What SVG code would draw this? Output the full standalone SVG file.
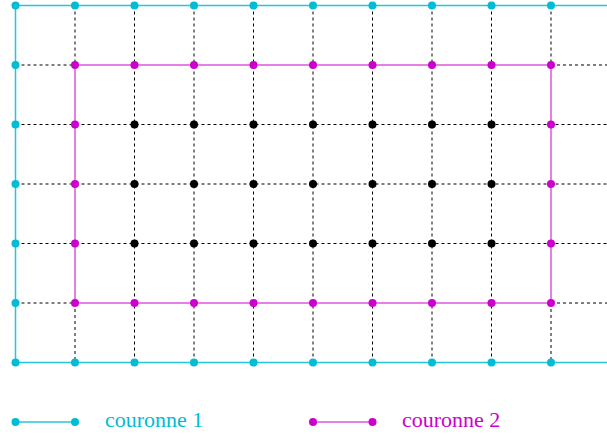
<svg xmlns="http://www.w3.org/2000/svg" width="607" height="434" viewBox="0 0 607 434">
<style>
.d{stroke:#000;stroke-width:1;stroke-dasharray:3 3;fill:none}
.c{stroke:#26c6da;stroke-width:1.5;fill:none}
.m{stroke:#cc00cc;stroke-width:1;fill:none}
.cd{fill:#00bcd4}
.md{fill:#cc00cc}
.bd{fill:#000}
.t{font-family:"Liberation Serif","Times New Roman",serif;font-size:22px}
</style>
<rect width="607" height="434" fill="#fff"/>
<g id="connectors">
<g id="grid-h">
<line class="d" x1="15.5" y1="65" x2="75" y2="65"/>
<line class="d" x1="551" y1="65" x2="607" y2="65"/>
<line class="d" x1="15.5" y1="124.5" x2="607" y2="124.5"/>
<line class="d" x1="15.5" y1="184" x2="607" y2="184"/>
<line class="d" x1="15.5" y1="243.5" x2="607" y2="243.5"/>
<line class="d" x1="15.5" y1="303" x2="75" y2="303"/>
<line class="d" x1="551" y1="303" x2="607" y2="303"/>
</g>
<g id="grid-v">
<line class="d" x1="75" y1="5.5" x2="75" y2="65"/>
<line class="d" x1="75" y1="303" x2="75" y2="362.5"/>
<line class="d" x1="134.5" y1="5.5" x2="134.5" y2="362.5"/>
<line class="d" x1="194" y1="5.5" x2="194" y2="362.5"/>
<line class="d" x1="253.5" y1="5.5" x2="253.5" y2="362.5"/>
<line class="d" x1="313" y1="5.5" x2="313" y2="362.5"/>
<line class="d" x1="372.5" y1="5.5" x2="372.5" y2="362.5"/>
<line class="d" x1="432" y1="5.5" x2="432" y2="362.5"/>
<line class="d" x1="491.5" y1="5.5" x2="491.5" y2="362.5"/>
<line class="d" x1="551" y1="5.5" x2="551" y2="65"/>
<line class="d" x1="551" y1="303" x2="551" y2="362.5"/>
</g>
<polyline class="c" points="607,5.5 15.5,5.5 15.5,362.5 607,362.5"/>
<rect class="m" x="75" y="65" width="476" height="238"/>
<line class="c" x1="15.5" y1="422" x2="75" y2="422"/>
<line class="m" x1="313" y1="422" x2="372.5" y2="422"/>
</g>
<g id="couronne1">
<circle class="cd" cx="15.5" cy="5.5" r="4"/><circle class="cd" cx="75" cy="5.5" r="4"/><circle class="cd" cx="134.5" cy="5.5" r="4"/><circle class="cd" cx="194" cy="5.5" r="4"/><circle class="cd" cx="253.5" cy="5.5" r="4"/><circle class="cd" cx="313" cy="5.5" r="4"/><circle class="cd" cx="372.5" cy="5.5" r="4"/><circle class="cd" cx="432" cy="5.5" r="4"/><circle class="cd" cx="491.5" cy="5.5" r="4"/><circle class="cd" cx="551" cy="5.5" r="4"/>
<circle class="cd" cx="15.5" cy="362.5" r="4"/><circle class="cd" cx="75" cy="362.5" r="4"/><circle class="cd" cx="134.5" cy="362.5" r="4"/><circle class="cd" cx="194" cy="362.5" r="4"/><circle class="cd" cx="253.5" cy="362.5" r="4"/><circle class="cd" cx="313" cy="362.5" r="4"/><circle class="cd" cx="372.5" cy="362.5" r="4"/><circle class="cd" cx="432" cy="362.5" r="4"/><circle class="cd" cx="491.5" cy="362.5" r="4"/><circle class="cd" cx="551" cy="362.5" r="4"/>
<circle class="cd" cx="15.5" cy="65" r="4"/><circle class="cd" cx="15.5" cy="124.5" r="4"/><circle class="cd" cx="15.5" cy="184" r="4"/><circle class="cd" cx="15.5" cy="243.5" r="4"/><circle class="cd" cx="15.5" cy="303" r="4"/>
</g>
<g id="couronne2">
<circle class="md" cx="75" cy="65" r="4"/><circle class="md" cx="134.5" cy="65" r="4"/><circle class="md" cx="194" cy="65" r="4"/><circle class="md" cx="253.5" cy="65" r="4"/><circle class="md" cx="313" cy="65" r="4"/><circle class="md" cx="372.5" cy="65" r="4"/><circle class="md" cx="432" cy="65" r="4"/><circle class="md" cx="491.5" cy="65" r="4"/><circle class="md" cx="551" cy="65" r="4"/>
<circle class="md" cx="75" cy="303" r="4"/><circle class="md" cx="134.5" cy="303" r="4"/><circle class="md" cx="194" cy="303" r="4"/><circle class="md" cx="253.5" cy="303" r="4"/><circle class="md" cx="313" cy="303" r="4"/><circle class="md" cx="372.5" cy="303" r="4"/><circle class="md" cx="432" cy="303" r="4"/><circle class="md" cx="491.5" cy="303" r="4"/><circle class="md" cx="551" cy="303" r="4"/>
<circle class="md" cx="75" cy="124.5" r="4"/><circle class="md" cx="75" cy="184" r="4"/><circle class="md" cx="75" cy="243.5" r="4"/>
<circle class="md" cx="551" cy="124.5" r="4"/><circle class="md" cx="551" cy="184" r="4"/><circle class="md" cx="551" cy="243.5" r="4"/>
</g>
<g id="interior">
<circle class="bd" cx="134.5" cy="124.5" r="4"/><circle class="bd" cx="194" cy="124.5" r="4"/><circle class="bd" cx="253.5" cy="124.5" r="4"/><circle class="bd" cx="313" cy="124.5" r="4"/><circle class="bd" cx="372.5" cy="124.5" r="4"/><circle class="bd" cx="432" cy="124.5" r="4"/><circle class="bd" cx="491.5" cy="124.5" r="4"/>
<circle class="bd" cx="134.5" cy="184" r="4"/><circle class="bd" cx="194" cy="184" r="4"/><circle class="bd" cx="253.5" cy="184" r="4"/><circle class="bd" cx="313" cy="184" r="4"/><circle class="bd" cx="372.5" cy="184" r="4"/><circle class="bd" cx="432" cy="184" r="4"/><circle class="bd" cx="491.5" cy="184" r="4"/>
<circle class="bd" cx="134.5" cy="243.5" r="4"/><circle class="bd" cx="194" cy="243.5" r="4"/><circle class="bd" cx="253.5" cy="243.5" r="4"/><circle class="bd" cx="313" cy="243.5" r="4"/><circle class="bd" cx="372.5" cy="243.5" r="4"/><circle class="bd" cx="432" cy="243.5" r="4"/><circle class="bd" cx="491.5" cy="243.5" r="4"/>
</g>
<g id="legend1">
<circle class="cd" cx="15.5" cy="422" r="4"/><circle class="cd" cx="75" cy="422" r="4"/>
<text class="t" x="105" y="427" fill="#00bcd4">couronne 1</text>
</g>
<g id="legend2">
<circle class="md" cx="313" cy="422" r="4"/><circle class="md" cx="372.5" cy="422" r="4"/>
<text class="t" x="402" y="427" fill="#cc00cc">couronne 2</text>
</g>
</svg>
